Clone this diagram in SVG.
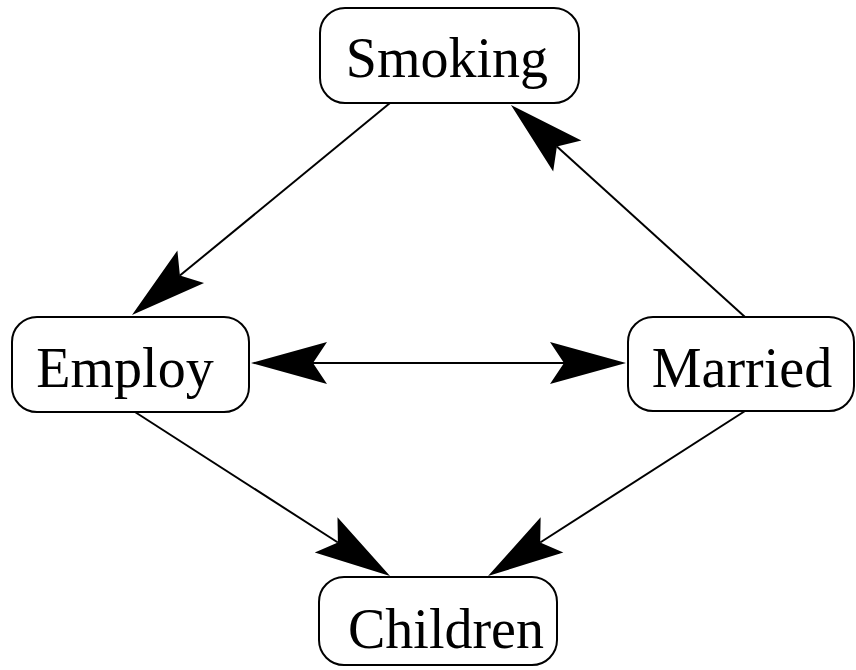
<svg xmlns="http://www.w3.org/2000/svg" width="856" height="670" viewBox="0 0 856 670">
<style>
.node rect{fill:#fff;stroke:#000;stroke-width:2}
.node text{font-family:"Liberation Serif","Times New Roman",serif;font-size:56px;text-anchor:middle;fill:#000}
.edges line{stroke:#000;stroke-width:2;fill:none}
</style>
<defs>
<marker id="ah" markerUnits="userSpaceOnUse" orient="auto-start-reverse" refX="0" refY="0" markerWidth="100" markerHeight="100" viewBox="-20 -30 100 60" overflow="visible">
<path d="M62,0 L-14,-21 L0,0 L-14,21 Z" fill="#000"/>
</marker>
</defs>
<rect width="856" height="670" fill="#fff"/>
<g class="edges">
<line x1="390" y1="103" x2="179.9" y2="275.6" marker-end="url(#ah)"/>
<line x1="745" y1="317" x2="556.9" y2="146.6" marker-end="url(#ah)"/>
<line x1="313" y1="363" x2="564" y2="363" marker-start="url(#ah)" marker-end="url(#ah)"/>
<line x1="135" y1="412" x2="337.9" y2="542.5" marker-end="url(#ah)"/>
<line x1="745" y1="411" x2="540.2" y2="542.5" marker-end="url(#ah)"/>
</g>
<g id="smoking" class="node"><rect x="320" y="8" width="259" height="95" rx="25"/><text x="447" y="77">Smoking</text></g>
<g id="employ" class="node"><rect x="12" y="317" width="237" height="95" rx="25"/><text x="125" y="387">Employ</text></g>
<g id="married" class="node"><rect x="628" y="317" width="226" height="94" rx="25"/><text x="742" y="387">Married</text></g>
<g id="children" class="node"><rect x="319" y="577" width="238" height="88" rx="25"/><text x="446" y="648">Children</text></g>
</svg>
